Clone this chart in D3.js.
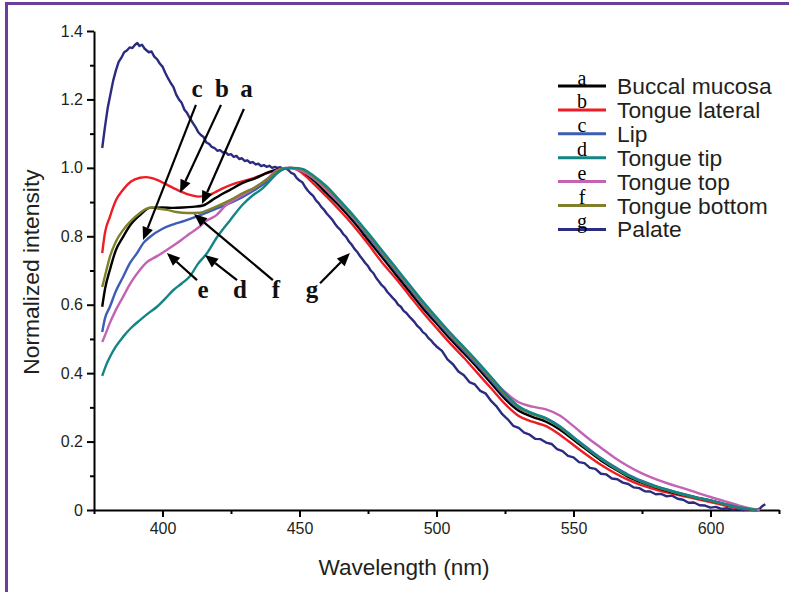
<!DOCTYPE html>
<html><head><meta charset="utf-8">
<script src="https://cdn.jsdelivr.net/npm/d3@7"></script>
<style>
html,body{margin:0;padding:0;background:#fff;}
svg{display:block;}
.sans{font-family:"Liberation Sans",Arial,sans-serif;}
.serif{font-family:"Liberation Serif","Times New Roman",serif;}
</style></head>
<body>
<script>
// ---------------- DATA ----------------
const seriesNames = ["Buccal mucosa","Tongue lateral","Lip","Tongue tip","Tongue top","Tongue bottom","Palate"];
const seriesLetters = ["a","b","c","d","e","f","g"];
const seriesColors = ["#000000","#ee1c24","#3d5db5","#138585","#c462b4","#7f7f2c","#2b2c80"];

const buccal = [[378,0.594],[379,0.645],[380.8,0.702],[383,0.76],[385.6,0.798],[388,0.83],[391.8,0.862],[395.4,0.883],[400,0.884],[404,0.883],[407.5,0.884],[411,0.886],[414.8,0.89],[418,0.905],[421,0.92],[424.5,0.935],[429.3,0.956],[434,0.97],[439,0.988],[443.8,0.998],[447,1.0],[450,0.995],[455,0.965],[460,0.925],[465,0.885],[470,0.84],[475,0.79],[480,0.74],[485,0.69],[490,0.64],[495,0.59],[500,0.545],[505,0.5],[510,0.458],[515,0.415],[520,0.37],[525,0.325],[530,0.29],[535,0.272],[540,0.258],[545,0.235],[550,0.205],[555,0.175],[560,0.145],[565,0.12],[570,0.097],[575,0.08],[580,0.066],[585,0.054],[590,0.044],[595,0.035],[600,0.027],[605,0.017],[610,0.008],[615,0.002],[617,0]];
const lateral = [[378,0.751],[379,0.81],[380.8,0.857],[383,0.905],[385.6,0.936],[388.5,0.96],[391.8,0.971],[394,0.973],[398,0.965],[401,0.953],[404,0.941],[407,0.93],[410,0.921],[413,0.916],[416,0.918],[419,0.928],[422,0.94],[427,0.956],[432,0.967],[436,0.978],[440,0.99],[444,0.998],[447,1.0],[450,0.99],[455,0.955],[460,0.915],[465,0.873],[470,0.828],[475,0.778],[480,0.725],[485,0.678],[490,0.628],[495,0.578],[500,0.532],[505,0.487],[510,0.445],[515,0.4],[520,0.355],[525,0.31],[530,0.275],[535,0.258],[540,0.245],[545,0.22],[550,0.19],[555,0.16],[560,0.132],[565,0.108],[570,0.088],[575,0.072],[580,0.06],[585,0.05],[590,0.041],[595,0.032],[600,0.023],[605,0.014],[610,0.006],[615,0.001],[617,0]];
const lip = [[378,0.52],[379,0.56],[380.8,0.594],[383,0.64],[385.6,0.681],[388,0.72],[390.7,0.751],[393,0.78],[395.4,0.798],[400,0.822],[404,0.835],[408,0.845],[412.6,0.858],[417,0.872],[422,0.888],[426,0.902],[429.3,0.915],[434,0.937],[439,0.965],[442.7,0.99],[446,1.0],[449,0.998],[455,0.972],[460,0.935],[465,0.893],[470,0.85],[475,0.8],[480,0.75],[485,0.7],[490,0.65],[495,0.6],[500,0.553],[505,0.508],[510,0.466],[515,0.423],[520,0.378],[525,0.333],[530,0.298],[535,0.28],[540,0.268],[545,0.245],[550,0.213],[555,0.182],[560,0.152],[565,0.126],[570,0.103],[575,0.085],[580,0.07],[585,0.058],[590,0.047],[595,0.037],[600,0.028],[605,0.018],[610,0.008],[615,0.002],[617,0]];
const tip = [[378,0.392],[379.5,0.425],[380.8,0.447],[383,0.478],[385.6,0.506],[388.5,0.532],[391.8,0.555],[395,0.576],[398,0.594],[401,0.618],[404,0.643],[407,0.662],[410,0.683],[413,0.72],[416,0.748],[419.7,0.795],[424.5,0.845],[429.3,0.893],[433,0.92],[436.5,0.94],[439,0.96],[441.5,0.982],[445,0.998],[448,1.0],[451,0.997],[455,0.978],[460,0.945],[465,0.902],[470,0.858],[475,0.81],[480,0.76],[485,0.71],[490,0.66],[495,0.61],[500,0.563],[505,0.518],[510,0.476],[515,0.433],[520,0.388],[525,0.342],[530,0.303],[535,0.283],[540,0.268],[545,0.243],[550,0.212],[555,0.18],[560,0.15],[565,0.124],[570,0.101],[575,0.083],[580,0.069],[585,0.057],[590,0.046],[595,0.036],[600,0.028],[605,0.018],[610,0.008],[615,0.002],[617,0]];
const top_ = [[378,0.491],[379.5,0.52],[380.8,0.547],[383,0.585],[385.6,0.623],[388.5,0.665],[391.8,0.702],[394,0.722],[398,0.742],[401,0.757],[404,0.773],[407,0.79],[410,0.808],[413,0.825],[416,0.845],[419.7,0.862],[423,0.89],[428,0.915],[434,0.944],[439,0.973],[441.5,0.992],[445,1.0],[448,0.998],[450,0.993],[455,0.97],[460,0.935],[465,0.895],[470,0.852],[475,0.805],[480,0.755],[485,0.705],[490,0.655],[495,0.605],[500,0.558],[505,0.513],[510,0.472],[515,0.43],[520,0.385],[525,0.345],[530,0.315],[535,0.302],[540,0.294],[545,0.276],[550,0.245],[555,0.212],[560,0.182],[565,0.153],[570,0.128],[575,0.107],[580,0.09],[585,0.076],[590,0.064],[595,0.051],[600,0.038],[605,0.026],[610,0.014],[615,0.004],[618,0]];
const bottom = [[378,0.652],[379.5,0.7],[380.8,0.74],[383,0.785],[385.6,0.818],[388.5,0.845],[391.8,0.868],[394,0.88],[396.5,0.884],[399,0.88],[401.6,0.877],[405,0.871],[409,0.868],[413.7,0.869],[417,0.878],[420,0.888],[424.5,0.905],[429.3,0.926],[434,0.944],[439,0.972],[442.7,0.995],[446,1.0],[450,0.997],[455,0.975],[460,0.94],[465,0.898],[470,0.855],[475,0.806],[480,0.756],[485,0.706],[490,0.656],[495,0.606],[500,0.559],[505,0.514],[510,0.472],[515,0.429],[520,0.384],[525,0.338],[530,0.3],[535,0.281],[540,0.266],[545,0.242],[550,0.21],[555,0.179],[560,0.149],[565,0.123],[570,0.1],[575,0.082],[580,0.068],[585,0.056],[590,0.045],[595,0.035],[600,0.027],[605,0.017],[610,0.008],[615,0.002],[617,0]];
const palate = [[378,1.058],[379,1.12],[380,1.175],[381,1.215],[382,1.255],[383,1.285],[384,1.31],[385,1.322],[386,1.338],[387,1.343],[388,1.352],[389,1.35],[390,1.36],[390.8,1.365],[391.6,1.356],[392.5,1.36],[393.5,1.348],[395,1.338],[396,1.34],[397,1.325],[398,1.318],[399,1.305],[400,1.296],[401,1.278],[402,1.262],[403,1.248],[404,1.236],[405,1.214],[406,1.2],[407,1.19],[408,1.17],[409,1.16],[410,1.145],[411,1.132],[412,1.12],[413,1.105],[414,1.096],[415,1.09],[416,1.074],[417,1.07],[418,1.061],[419,1.058],[420,1.05],[421,1.052],[422,1.045],[423,1.046],[424,1.038],[425,1.04],[426,1.032],[427,1.035],[428,1.026],[429,1.028],[430,1.02],[431,1.022],[432,1.015],[433,1.017],[434,1.01],[435,1.012],[436,1.005],[437,1.008],[438,1.003],[439,1.006],[440,1.0],[441,1.003],[442,1.0],[443,1.002],[444,0.997],[445,1.0],[446,0.993],[447,0.985],[448,0.982],[449,0.97],[450,0.963],[451,0.958],[452,0.945],[453,0.934],[454,0.925],[455,0.918],[456,0.905],[457,0.897],[458,0.885],[459,0.877],[460,0.866],[461,0.857],[462,0.848],[463,0.836],[464,0.826],[465,0.818],[466,0.806],[467,0.798],[468,0.785],[469,0.776],[470,0.764],[471,0.755],[472,0.743],[473,0.733],[474,0.722],[475,0.713],[476,0.7],[477,0.692],[478,0.678],[479,0.668],[480,0.657],[481,0.65],[482,0.638],[483,0.629],[484,0.62],[485,0.612],[486,0.6],[487,0.594],[488,0.582],[489,0.576],[490,0.566],[491,0.558],[492,0.549],[493,0.538],[494,0.531],[495,0.52],[496,0.514],[497,0.503],[498,0.496],[499,0.486],[500,0.478],[502,0.465],[504,0.44],[506,0.426],[508,0.405],[510,0.394],[512,0.374],[514,0.367],[516,0.348],[518,0.34],[520,0.318],[522,0.302],[524,0.28],[526,0.265],[528,0.246],[530,0.24],[532,0.226],[534,0.22],[536,0.208],[538,0.207],[540,0.197],[542,0.193],[544,0.178],[546,0.172],[548,0.158],[550,0.154],[552,0.14],[554,0.137],[556,0.123],[558,0.12],[560,0.106],[562,0.104],[564,0.092],[566,0.09],[568,0.08],[570,0.076],[572,0.066],[574,0.064],[576,0.055],[578,0.054],[580,0.046],[582,0.047],[584,0.04],[586,0.042],[588,0.033],[590,0.03],[592,0.021],[594,0.022],[596,0.014],[598,0.013],[600,0.007],[602,0.009],[604,0.003],[606,0.005],[608,0.001],[610,0.003],[612,0],[614,0.002],[616,0],[618,0.004],[619,0.012],[620,0.017]];
const seriesData = [buccal, lateral, lip, tip, top_, bottom, palate];

const xMajorTicks = [400,450,500,550,600];
const xMinorTicks = [375,425,475,525,575,625];
const yMajorTicks = [0,0.2,0.4,0.6,0.8,1.0,1.2,1.4];
const yMinorTicks = [0.1,0.3,0.5,0.7,0.9,1.1,1.3];

// annotations: letter, label position [nm, value], arrow tail, arrow tip
const annLetters = ["c","b","a","e","d","f","g"];
const annLabelPos = [[412.6,1.207],[421.7,1.207],[430.7,1.207],[414.8,0.62],[428.3,0.62],[441.4,0.62],[454.6,0.62]];
const annTail = [[412.2,1.184],[421.35,1.184],[429.7,1.172],[412.6,0.672],[427.2,0.672],[440.3,0.672],[457.5,0.663]];
const annTip = [[392.9,0.789],[406.4,0.927],[414.4,0.894],[401.6,0.751],[415.5,0.745],[411.5,0.865],[468.4,0.751]];

// ---------------- DRAW ----------------
const W = 789, H = 592;
const svg = d3.select("body").append("svg").attr("width", W).attr("height", H);

// frame (top & left purple rule)
svg.append("line").attr("x1",5).attr("x2",W).attr("y1",3.5).attr("y2",3.5).attr("stroke","#6b3e99").attr("stroke-width",3);
svg.append("line").attr("x1",6.5).attr("x2",6.5).attr("y1",2).attr("y2",H).attr("stroke","#6b3e99").attr("stroke-width",3);

const x = d3.scaleLinear().domain([375,625]).range([94,779]);
const y = d3.scaleLinear().domain([0,1.4]).range([510,31]);

const ink = "#231f20";

// axes
const gx = svg.append("g").attr("transform",`translate(0,${y(0)})`);
gx.call(d3.axisBottom(x).tickValues(xMajorTicks).tickSize(7).tickSizeOuter(0).tickPadding(6).tickFormat(d3.format("d")));
const gxm = svg.append("g").attr("transform",`translate(0,${y(0)})`);
gxm.call(d3.axisBottom(x).tickValues(xMinorTicks).tickSize(4).tickSizeOuter(0).tickFormat(""));
const gy = svg.append("g").attr("transform",`translate(${x(375)},0)`);
gy.call(d3.axisLeft(y).tickValues(yMajorTicks).tickSize(7).tickSizeOuter(0).tickPadding(4).tickFormat(d => d===0 ? "0" : d3.format(".1f")(d)));
const gym = svg.append("g").attr("transform",`translate(${x(375)},0)`);
gym.call(d3.axisLeft(y).tickValues(yMinorTicks).tickSize(4).tickSizeOuter(0).tickFormat(""));
[gx,gxm,gy,gym].forEach(g=>{
  g.attr("font-family",null).attr("font-size",null);
  g.selectAll(".domain").attr("stroke","#000").attr("stroke-width",2);
  g.selectAll(".tick line").attr("stroke","#000").attr("stroke-width",2);
  g.selectAll(".tick text").attr("class","sans").style("font-size","16px").attr("fill",ink);
});
gym.select(".domain").remove(); gxm.select(".domain").remove();

// axis titles
svg.append("text").attr("class","sans").attr("x",404).attr("y",575).attr("text-anchor","middle")
  .style("font-size","22.6px").attr("fill",ink).text("Wavelength (nm)");
svg.append("text").attr("class","sans").attr("transform","translate(39,272) rotate(-90)").attr("text-anchor","middle")
  .style("font-size","22.8px").attr("fill",ink).text("Normalized intensity");

// lines
const line = d3.line().x(d=>x(d[0])).y(d=>y(d[1]));
const drawOrder = [6,1,0,2,4,5,3];
drawOrder.forEach(i=>{
  svg.append("path").datum(seriesData[i])
    .attr("d", line.curve(i===6 ? d3.curveLinear : d3.curveMonotoneX))
    .attr("fill","none").attr("stroke",seriesColors[i]).attr("stroke-width",2.4)
    .attr("stroke-linejoin","round");
});

// legend
const lg = svg.append("g");
seriesNames.forEach((nm,i)=>{
  const ly = 86 + i*23.9;
  lg.append("line").attr("x1",558).attr("x2",606).attr("y1",ly).attr("y2",ly)
    .attr("stroke",seriesColors[i]).attr("stroke-width",3);
  lg.append("text").attr("class","serif").attr("x",582).attr("y",ly-1.5).attr("text-anchor","middle")
    .style("font-size","20px").attr("fill","#000")
    .text(seriesLetters[i]);
  lg.append("text").attr("class","sans").attr("x",617).attr("y",ly+8).style("font-size","22.8px").attr("fill",ink).text(nm);
});

// annotations
const ann = svg.append("g");
annLetters.forEach((L,i)=>{
  const x1 = x(annTail[i][0]), y1 = y(annTail[i][1]);
  const x2 = x(annTip[i][0]), y2 = y(annTip[i][1]);
  const ang = Math.atan2(y2-y1, x2-x1);
  const hl = 13, hw = 5.5;
  const bx = x2 - hl*Math.cos(ang), by = y2 - hl*Math.sin(ang);
  ann.append("line").attr("x1",x1).attr("y1",y1).attr("x2",bx).attr("y2",by)
    .attr("stroke","#000").attr("stroke-width",2.2);
  const p1 = [bx + hw*Math.sin(ang), by - hw*Math.cos(ang)];
  const p2 = [bx - hw*Math.sin(ang), by + hw*Math.cos(ang)];
  ann.append("path").attr("d",`M${x2},${y2}L${p1[0]},${p1[1]}L${p2[0]},${p2[1]}Z`).attr("fill","#000");
  ann.append("text").attr("class","serif").attr("x",x(annLabelPos[i][0])).attr("y",y(annLabelPos[i][1]))
    .attr("text-anchor","middle")
    .style("font-weight","bold").style("font-size","25px").attr("fill","#111").text(L);
});
</script>
</body></html>
